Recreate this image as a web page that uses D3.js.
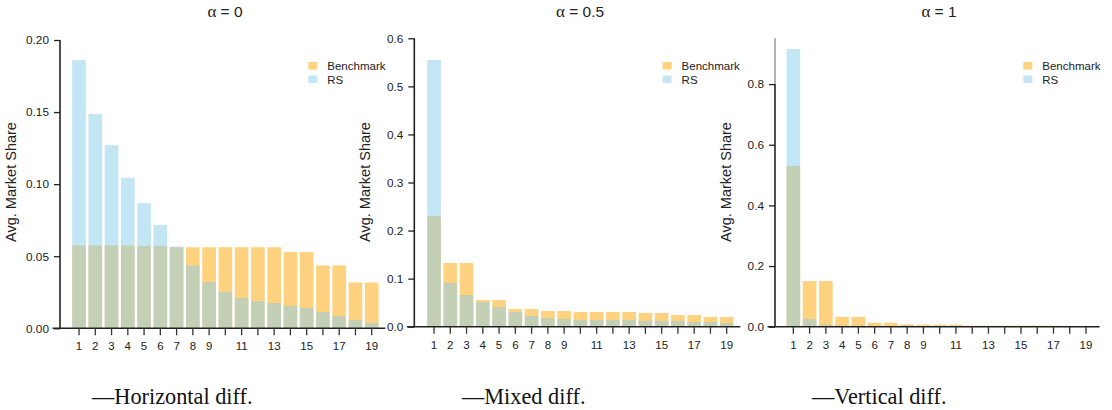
<!DOCTYPE html>
<html><head><meta charset="utf-8">
<script src="https://cdn.jsdelivr.net/npm/d3@7"></script>
<style>body{margin:0;background:#fff}svg{display:block}</style>
</head><body>
<svg id="chart" width="1112" height="410"></svg>
<script>
// ---------- data ----------
const categories = [1,2,3,4,5,6,7,8,9,10,11,12,13,14,15,16,17,18,19];
const xTickLabels = ["1","2","3","4","5","6","7","8","9","","11","","13","","15","","17","","19"];
const seriesNames = ["Benchmark", "RS"];
const alphaTitles = ["0", "0.5", "1"];
const captions = ["\u2014Horizontal diff.", "\u2014Mixed diff.", "\u2014Vertical diff."];

const benchHoriz = [0.0575,0.0575,0.0575,0.0575,0.0571,0.0571,0.0562,0.0562,0.0562,0.0562,0.0562,0.0562,0.0562,0.0529,0.0529,0.0436,0.0436,0.0318,0.0318];
const rsHoriz    = [0.186,0.1486,0.127,0.1044,0.0868,0.0717,0.0567,0.0436,0.0321,0.0252,0.0210,0.0189,0.0175,0.0155,0.0141,0.0113,0.0085,0.0058,0.0037];

const benchMixed = [0.2303,0.1325,0.1325,0.0555,0.0555,0.0368,0.0368,0.0327,0.0327,0.0306,0.0306,0.0306,0.0306,0.0285,0.0285,0.0243,0.0243,0.0202,0.0202];
const rsMixed    = [0.5548,0.0909,0.0659,0.0514,0.0410,0.0306,0.0223,0.0180,0.0160,0.0140,0.0140,0.0140,0.0140,0.0120,0.0120,0.0120,0.0098,0.0098,0.0077];

const benchVert  = [0.5298,0.1507,0.1507,0.0325,0.0325,0.0130,0.0130,0.0076,0.0066,0.0066,0.0066,0.0033,0.0033,0.0033,0.0033,0.0033,0.0033,0.0008,0.0008];
const rsVert     = [0.9156,0.0254,0.0066,0.0040,0.0040,0.0020,0.0020,0.0040,0.0010,0.0010,0.0010,0.0010,0.0010,0.0010,0.0010,0.0010,0.0010,0.0005,0.0005];

const yTicksHoriz = [0, 0.05, 0.10, 0.15, 0.20];
const yTicksMixed = [0, 0.1, 0.2, 0.3, 0.4, 0.5, 0.6];
const yTicksVert  = [0, 0.2, 0.4, 0.6, 0.8];

// ---------- layout ----------
const panels = [
  {bench: benchHoriz, rs: rsHoriz, ticks: yTicksHoriz, fmt: ".2f", yMax: 0.20, axisX: 60,    y0: 328.3, yTop: 40,   xStart: 70.9,  titleX: 225, capX: 92},
  {bench: benchMixed, rs: rsMixed, ticks: yTicksMixed, fmt: ".1f", yMax: 0.60, axisX: 414.3, y0: 326.7, yTop: 38.3, xStart: 425.9, titleX: 580, capX: 462},
  {bench: benchVert,  rs: rsVert,  ticks: yTicksVert,  fmt: ".1f", yMax: 0.951, axisX: 775, y0: 326.7, yTop: 38.3, xStart: 785.2, titleX: 939, capX: 812}
];
const step = 16.26;
const colors = {Benchmark: "orange", RS: "skyblue"};
const sans = "'Liberation Sans', Arial, sans-serif";
const svg = d3.select("#chart");

panels.forEach((p, i) => {
  const g = svg.append("g");
  const x = d3.scaleBand().domain(categories).range([p.xStart, p.xStart + step * categories.length]).paddingInner(0.16).paddingOuter(0.08);
  const y = d3.scaleLinear().domain([0, p.yMax]).range([p.y0, p.yTop]);

  // bars
  [["Benchmark", p.bench], ["RS", p.rs]].forEach(([name, vals]) => {
    g.append("g").selectAll("rect").data(categories).join("rect")
      .attr("x", d => x(d)).attr("width", x.bandwidth())
      .attr("y", (d, k) => y(vals[k])).attr("height", (d, k) => y(0) - y(vals[k]))
      .attr("fill", colors[name]).attr("fill-opacity", 0.5);
  });

  // y axis
  const lastTick = p.ticks[p.ticks.length - 1];
  if (y(lastTick) > p.yTop + 1) {
    g.append("line").attr("x1", p.axisX).attr("x2", p.axisX).attr("y1", p.yTop).attr("y2", y(lastTick))
      .attr("stroke", "#8a8a8a").attr("stroke-width", 1.3);
  }
  const yAxis = d3.axisLeft(y).tickValues(p.ticks).tickFormat(d3.format(p.fmt)).tickSize(6).tickPadding(5);
  const ya = g.append("g").attr("transform", `translate(${p.axisX},0)`).call(yAxis);
  ya.select(".domain").attr("d", `M0,${y(0)}V${y(lastTick)}`).attr("stroke", "#222").attr("stroke-width", 1.6);
  ya.selectAll(".tick line").attr("stroke", "#222").attr("stroke-width", 1.3);
  ya.selectAll(".tick text").attr("font-family", sans).attr("font-size", 11.8).attr("fill", "#222");

  // x axis
  const xAxis = d3.axisBottom(x).tickFormat((d, k) => xTickLabels[k]).tickSize(7).tickPadding(7);
  const xa = g.append("g").attr("transform", `translate(0,${p.y0})`).call(xAxis);
  xa.select(".domain").attr("d", `M${p.axisX - 7.5},0H${p.xStart + step * categories.length + 5.5}`).attr("stroke", "#222").attr("stroke-width", 1.6);
  xa.selectAll(".tick line").attr("stroke", "#333").attr("stroke-width", 1.3);
  xa.selectAll(".tick text").attr("font-family", sans).attr("font-size", 11.5).attr("fill", "#222");

  // y label
  g.append("text").attr("transform", `translate(${p.axisX - 44.5},182) rotate(-90)`)
    .attr("text-anchor", "middle").attr("font-family", sans).attr("font-size", 14.5).attr("fill", "#222")
    .text("Avg. Market Share");

  // title
  const t = g.append("text").attr("x", p.titleX).attr("y", 17).attr("text-anchor", "middle")
    .attr("font-family", sans).attr("font-size", 15.5).attr("fill", "#222");
  t.append("tspan").attr("font-family", "'Liberation Serif', serif").attr("font-size", 17).text("\u03b1");
  t.append("tspan").text(" = " + alphaTitles[i]);

  // legend
  const lx = p.axisX + 248.3;
  seriesNames.forEach((name, k) => {
    g.append("rect").attr("x", lx).attr("y", 62 + k * 13.5).attr("width", 9).attr("height", 7.5)
      .attr("fill", colors[name]).attr("fill-opacity", 0.5);
    g.append("text").attr("x", lx + 19).attr("y", 70 + k * 13.5)
      .attr("font-family", sans).attr("font-size", 11.5).attr("fill", "#222").text(name);
  });

  // caption
  svg.append("text").attr("x", p.capX).attr("y", 404)
    .attr("font-family", "'Liberation Serif', 'Times New Roman', serif").attr("font-size", 22.3).attr("fill", "#111")
    .text(captions[i]);
});
</script>
</body></html>
